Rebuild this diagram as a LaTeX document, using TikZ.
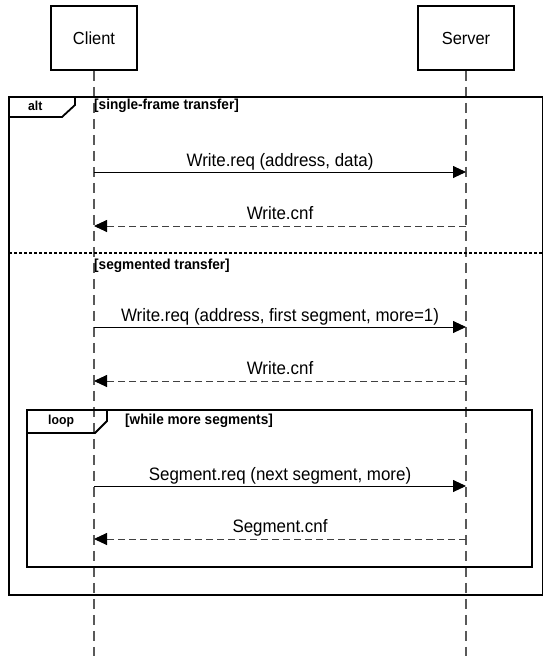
\documentclass[tikz,border=0pt]{standalone}
\usepackage{fontspec}
\setmainfont{Liberation Sans}
\newfontfamily\narrowfont[FakeStretch=0.94]{Liberation Sans}
\usetikzlibrary{arrows.meta}
\tikzset{
  actor/.style={draw=black, line width=1.8pt, minimum height=64pt, inner sep=0pt, font=\narrowfont\fontsize{17.5}{20}\selectfont},
  lifeline/.style={draw=black!65, line width=1.2pt, dash pattern=on 10pt off 6pt},
  frame/.style={draw=black, line width=1.8pt},
  framelbl/.style={font=\narrowfont\bfseries\fontsize{13}{15}\selectfont, inner sep=0pt, anchor=west},
  guard/.style={font=\narrowfont\bfseries\fontsize{14.5}{16}\selectfont, inner sep=0pt, anchor=west},
  msg/.style={draw=black, line width=0.9pt, -{Triangle[length=13pt,width=12pt]}},
  reply/.style={draw=black!75, line width=0.9pt, dash pattern=on 7pt off 4pt, -{Triangle[length=13pt,width=12pt,color=black]}},
  msglbl/.style={font=\narrowfont\fontsize{18}{20}\selectfont, inner sep=0pt, anchor=base}
}
\begin{document}
\begin{tikzpicture}[x=1pt,y=-1pt]
\useasboundingbox (0,0) rectangle (542,656);
\node[actor, minimum width=86pt] (client) at (94,38) {Client};
\node[actor, minimum width=96pt] (server) at (466,38) {Server};
\coordinate (cbot) at (94,656);
\coordinate (sbot) at (466,656);
\draw[lifeline] (client.south) -- (cbot);
\draw[lifeline] (server.south) -- (sbot);

% alt frame
\draw[frame] (9,97) rectangle (543,595);
\draw[frame] (9,117) -- (62,117) -- (75,105) -- (75,97);
\node[framelbl] (alt) at (28,106) {alt};
\node[guard] (g1) at (94,106) {[single-frame transfer]};
\draw[frame, dash pattern=on 3pt off 2pt] (9,253) -- (543,253);
\node[guard] (g2) at (94,266) {[segmented transfer]};

% loop frame
\draw[frame] (27,410) rectangle (532,567);
\draw[frame] (27,433) -- (95,433) -- (107,421) -- (107,410);
\node[framelbl] (loop) at (48,421) {loop};
\node[guard] (g3) at (125,421) {[while more segments]};

% messages
\coordinate (c1) at (94,172); \coordinate (s1) at (466,172);
\coordinate (c2) at (94,226); \coordinate (s2) at (466,226);
\coordinate (c3) at (94,327); \coordinate (s3) at (466,327);
\coordinate (c4) at (94,381); \coordinate (s4) at (466,381);
\coordinate (c5) at (94,486); \coordinate (s5) at (466,486);
\coordinate (c6) at (94,539); \coordinate (s6) at (466,539);

\draw[msg] (c1) -- node[msglbl, yshift=6pt] {Write.req (address, data)} (s1);
\draw[reply] (s2) -- node[msglbl, yshift=7pt] {Write.cnf} (c2);
\draw[msg] (c3) -- node[msglbl, yshift=6pt] {Write.req (address, first segment, more=1)} (s3);
\draw[reply] (s4) -- node[msglbl, yshift=7pt] {Write.cnf} (c4);
\draw[msg] (c5) -- node[msglbl, yshift=6pt] {Segment.req (next segment, more)} (s5);
\draw[reply] (s6) -- node[msglbl, yshift=7pt] {Segment.cnf} (c6);
\end{tikzpicture}
\end{document}
